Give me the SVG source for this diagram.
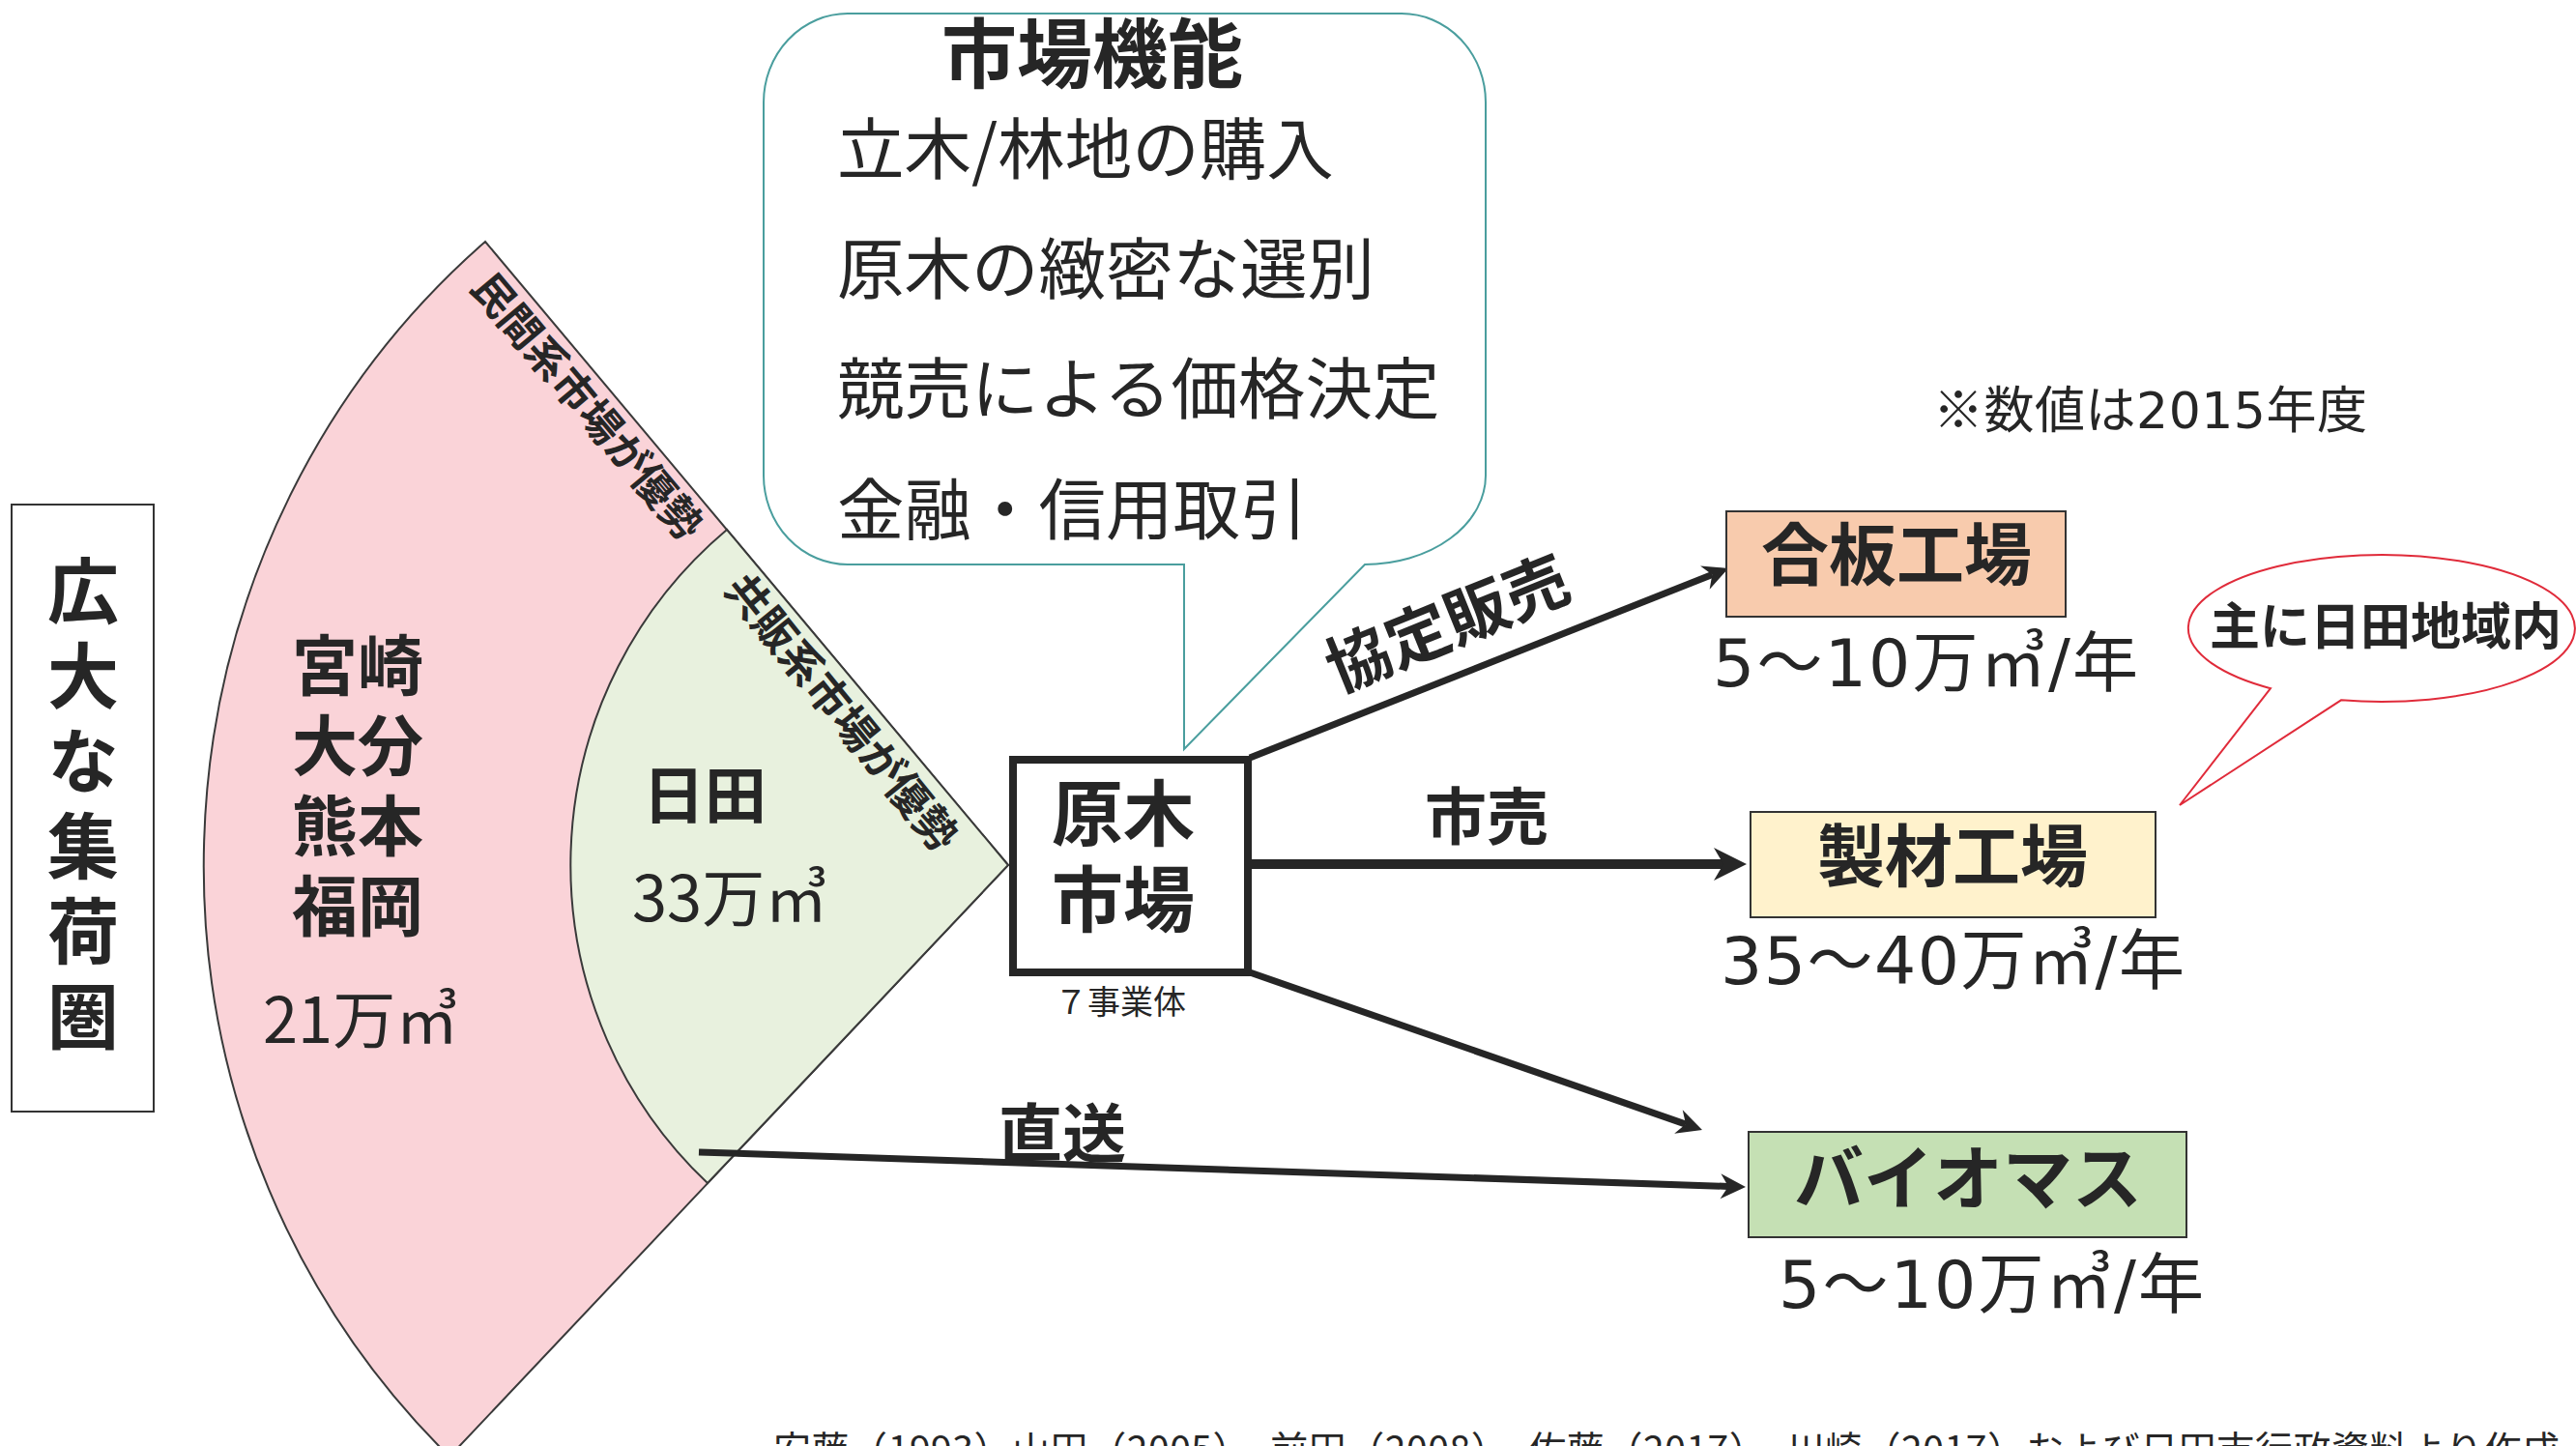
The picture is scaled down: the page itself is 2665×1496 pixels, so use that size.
<svg xmlns="http://www.w3.org/2000/svg" width="2665" height="1496" viewBox="0 0 2665 1496">
<defs>
<style>
text{font-family:"Noto Sans CJK JP",sans-serif;fill:#262626}
.b{font-weight:700}
.dv{font-family:"DejaVu Sans","Noto Sans CJK JP",sans-serif}
.cj{font-family:"Noto Sans CJK JP",sans-serif}
.conn{stroke:#262626;fill:none;stroke-linecap:butt}
.box{stroke:#333;stroke-width:2}
.fan{stroke:#3a3a3a;stroke-width:2;stroke-linejoin:miter}
</style>
<marker id="ah" markerUnits="userSpaceOnUse" markerWidth="40" markerHeight="40" refX="8" refY="0" orient="auto" overflow="visible"><path d="M0,-13 L26,0 L0,13 L8,0 Z" fill="#262626"/></marker>
<marker id="ahb" markerUnits="userSpaceOnUse" markerWidth="50" markerHeight="50" refX="10" refY="0" orient="auto" overflow="visible"><path d="M0,-17 L34,0 L0,17 L10,0 Z" fill="#262626"/></marker>
</defs>
<rect width="2665" height="1496" fill="#fff"/>

<g id="fan-outer">
<path class="fan" d="M1043,895 L502,250 A833 850 0 0 0 465,1507 Z" fill="#FAD3D8"/>
<text class="b" font-size="43" transform="translate(608,420) rotate(50)" y="16" text-anchor="middle">民間系市場が優勢</text>
<text class="b" font-size="68"><tspan x="302" y="714">宮崎</tspan><tspan x="302" y="797">大分</tspan><tspan x="302" y="880">熊本</tspan><tspan x="302" y="963">福岡</tspan></text>
<text font-size="65" x="272" y="1079">21万㎥</text>
</g>

<g id="fan-inner">
<path class="fan" d="M1043,895 L752,548 A453 453 0 0 0 732,1224 Z" fill="#E8F1DE"/>
<text class="b" font-size="44" transform="translate(871,737) rotate(51)" y="16" text-anchor="middle">共販系市場が優勢</text>
<text class="b" font-size="64" x="665" y="846">日田</text>
<text font-size="65" x="654" y="953">33万㎥</text>
</g>

<g id="collection-area">
<rect class="box" x="12" y="522" width="147" height="628" fill="#fff"/>
<text class="b" font-size="74" x="86" y="574" writing-mode="vertical-rl" letter-spacing="14">広大な集荷圏</text>
</g>

<g id="market-functions">
<path d="M877,14 H1450 A87 92 0 0 1 1537,106 V492 A125 92 0 0 1 1412,584 L1225,775 V584 H877 A87 92 0 0 1 790,492 V106 A87 92 0 0 1 877,14 Z" fill="#fff" stroke="#4A9E9E" stroke-width="2"/>
<text class="b" font-size="78" x="974" y="85">市場機能</text>
<text font-size="69.5" x="866" y="180">立木/林地の購入</text>
<text font-size="69.5" x="866" y="304">原木の緻密な選別</text>
<text font-size="69.5" x="866" y="428">競売による価格決定</text>
<text font-size="69.5" x="866" y="553">金融・信用取引</text>
</g>

<g id="connectors">
<line class="conn" x1="1293" y1="784" x2="1771.3" y2="594.6" stroke-width="7" marker-end="url(#ah)"/>
<line class="conn" x1="1295" y1="894" x2="1783" y2="894" stroke-width="10" marker-end="url(#ahb)"/>
<line class="conn" x1="1293" y1="1006" x2="1744" y2="1163.1" stroke-width="7" marker-end="url(#ah)"/>
<line class="conn" x1="723" y1="1192" x2="1788" y2="1227.4" stroke-width="7" marker-end="url(#ah)"/>
<text class="b" font-size="66" transform="translate(1497,644) rotate(-22)" y="25" text-anchor="middle">協定販売</text>
<text class="b" font-size="64" x="1538" y="868" text-anchor="middle">市売</text>
<text class="b" font-size="66" x="1099" y="1197" text-anchor="middle">直送</text>
</g>

<g id="log-market">
<rect x="1048" y="786" width="243" height="220" fill="#fff" stroke="#262626" stroke-width="8"/>
<text class="b" font-size="74" x="1162" y="869" text-anchor="middle">原木</text>
<text class="b" font-size="74" x="1162" y="958" text-anchor="middle">市場</text>
<text font-size="34" x="1159" y="1049" text-anchor="middle">７事業体</text>
</g>

<g id="plywood">
<rect class="box" x="1786" y="529" width="351" height="109" fill="#F8CBAD"/>
<text class="b" font-size="70" x="1962" y="600" text-anchor="middle">合板工場</text>
<text class="dv" font-size="68" x="1772" y="710" textLength="440">5<tspan class="cj">～</tspan>10<tspan class="cj">万㎥</tspan>/<tspan class="cj">年</tspan></text>
</g>

<g id="sawmill">
<rect class="box" x="1811" y="840" width="419" height="109" fill="#FFF2CC"/>
<text class="b" font-size="70" x="2020" y="912" text-anchor="middle">製材工場</text>
<text class="dv" font-size="68" x="1780" y="1018" textLength="480">35<tspan class="cj">～</tspan>40<tspan class="cj">万㎥</tspan>/<tspan class="cj">年</tspan></text>
</g>

<g id="biomass">
<rect class="box" x="1809" y="1171" width="453" height="109" fill="#C5E0B4"/>
<text class="b" font-size="72" x="2036" y="1245" text-anchor="middle">バイオマス</text>
<text class="dv" font-size="68" x="1840" y="1353" textLength="440">5<tspan class="cj">～</tspan>10<tspan class="cj">万㎥</tspan>/<tspan class="cj">年</tspan></text>
</g>

<g id="hita-note">
<path d="M2349,712.2 L2255,833 L2422,724.3 A200 76 0 1 0 2349,712.2 Z" fill="#fff" stroke="#E02B3A" stroke-width="2"/>
<text class="b" font-size="52" x="2286" y="667">主に日田地域内</text>
</g>

<g id="notes">
<text class="dv" font-size="52" x="2000" y="443" textLength="449"><tspan class="cj">※数値は</tspan>2015<tspan class="cj">年度</tspan></text>
<text font-size="39" x="800" y="1514" textLength="1848">安藤（1993）山田（2005）、前田（2008）、佐藤（2017）、川崎（2017）および日田市行政資料より作成</text>
</g>
</svg>
